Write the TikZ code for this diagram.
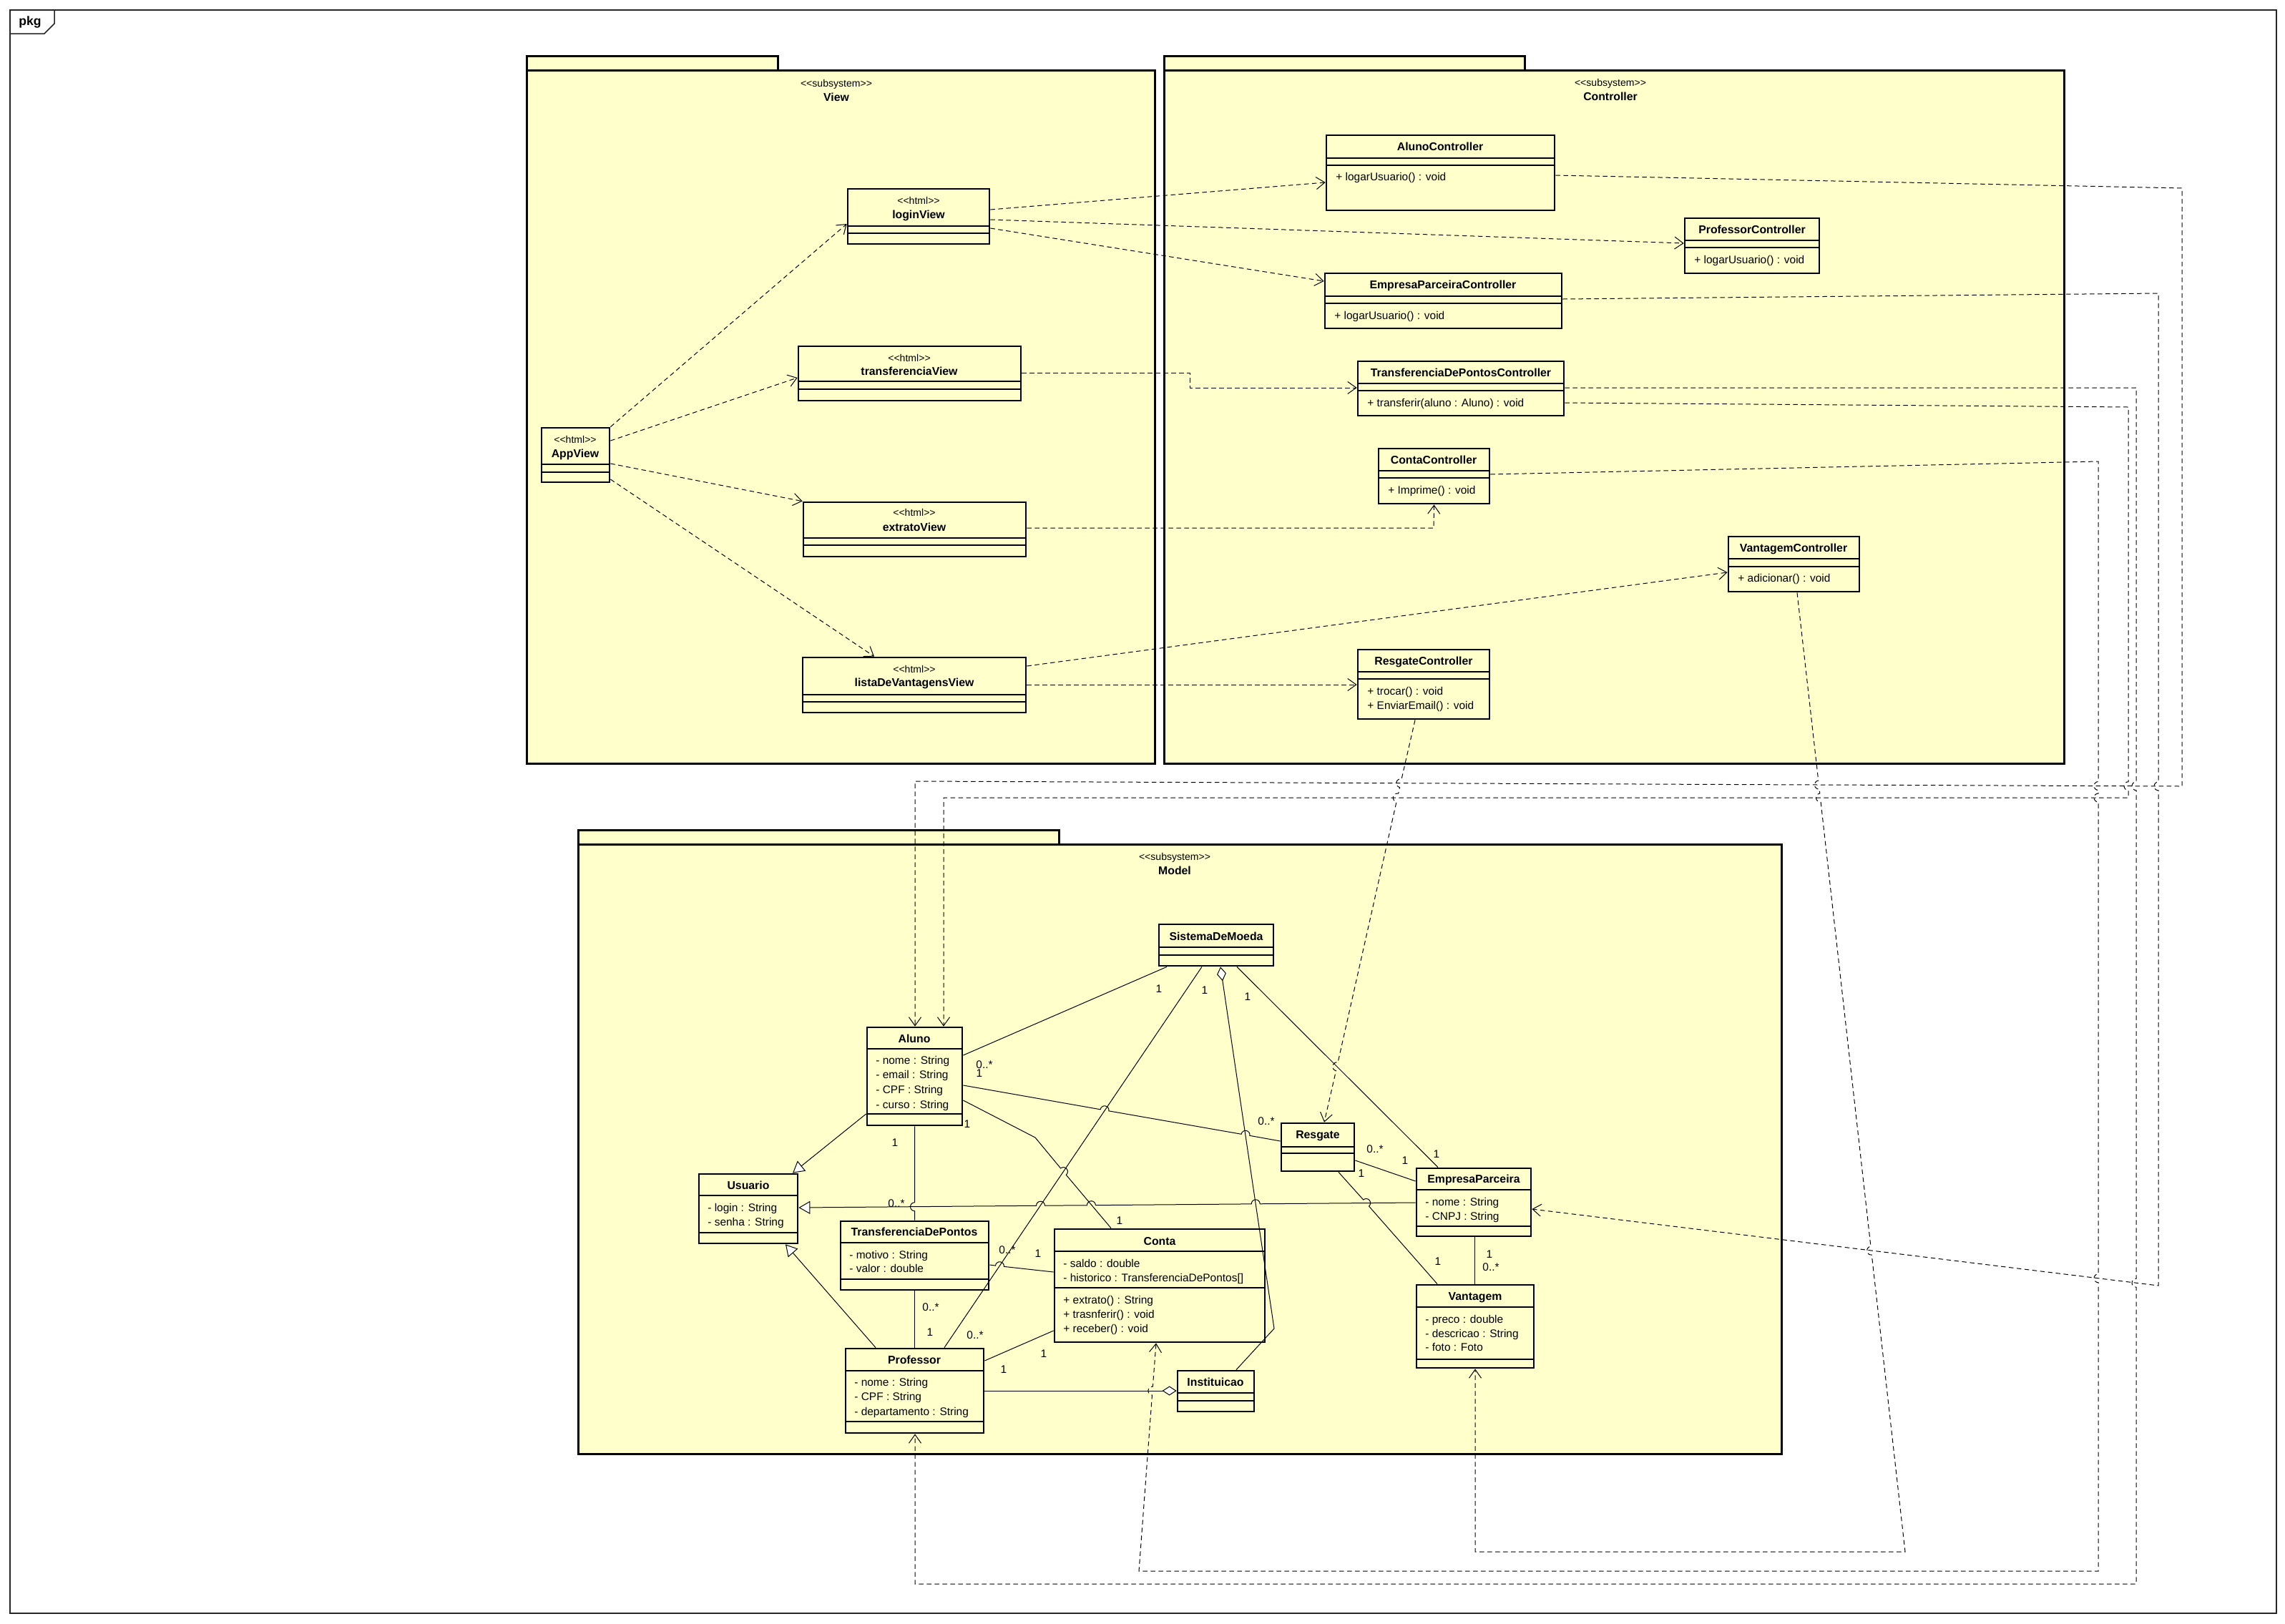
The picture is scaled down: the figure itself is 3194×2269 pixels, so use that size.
\documentclass[tikz,border=0pt]{standalone}
\usepackage{fontspec}
\setmainfont{Liberation Sans}
\usetikzlibrary{arrows.meta,fit}

\definecolor{umlyellow}{RGB}{255,255,204}

\tikzset{
  pkgbox/.style={draw, line width=0.6mm, fill=umlyellow, inner sep=0pt},
  classbox/.style={draw, line width=0.55mm, fill=umlyellow, inner sep=0pt},
  compart/.style={line width=0.22mm},
  cname/.style={font=\fontsize{9}{10}\selectfont\bfseries, anchor=mid, inner sep=0pt},
  stereo/.style={font=\fontsize{8}{9}\selectfont, anchor=mid, inner sep=0pt},
  attr/.style={font=\fontsize{8.8}{10}\selectfont, anchor=mid west, inner sep=0pt},
  mult/.style={font=\fontsize{8.8}{10}\selectfont, anchor=mid, inner sep=0pt},
  dep/.style={line width=0.2mm, dash pattern=on 1.3mm off 0.9mm,
    -{Straight Barb[length=2.4mm,width=3.4mm]}},
  assoc/.style={line width=0.2mm},
  gen/.style={line width=0.2mm, -{Triangle[length=3.2mm,width=3.6mm,fill=white]}},
  aggr/.style={line width=0.2mm, {Diamond[length=4mm,width=2.6mm,fill=white]}-},
}

\begin{document}
\begin{tikzpicture}[x=0.02cm, y=-0.02cm]
\useasboundingbox (0,0) rectangle (3194,2269);

% frame
\draw[line width=0.3mm, black!85] (14,14) rectangle (3182,2255);
\draw[line width=0.3mm, black!85] (14,47) -- (62,47) -- (76,33) -- (76,14);
\node[font=\fontsize{10}{12}\selectfont\bfseries] (pkg) at (42,31) {pkg};

% packages
\draw[pkgbox] (736,78) rectangle (1087,98);
\node[pkgbox, fit={(736,98) (1614,1067)}] (view) {};
\node[stereo] (viewst) at (1169,117) {<\kern0pt<subsystem>\kern0pt>};
\node[cname] (viewname) at (1169,137) {View};

\draw[pkgbox] (1627,78) rectangle (2131,98);
\node[pkgbox, fit={(1627,98) (2885,1067)}] (ctrl) {};
\node[stereo] (ctrlst) at (2251,116) {<\kern0pt<subsystem>\kern0pt>};
\node[cname] (ctrlname) at (2251,136) {Controller};

\draw[pkgbox] (808,1160) rectangle (1480,1180);
\node[pkgbox, fit={(808,1180) (2490,2032)}] (model) {};
\node[stereo] (modelst) at (1642,1198) {<\kern0pt<subsystem>\kern0pt>};
\node[cname] (modelname) at (1642,1218) {Model};

% view
\node[classbox, fit={(1185,264) (1383,341)}] (login) {};
\node[stereo] (loginst) at (1284,281) {<\kern0pt<html>\kern0pt>};
\node[cname] (loginname) at (1284,301) {loginView};
\draw[compart] (login.west |- 0,316) -- (login.east |- 0,316);
\draw[compart] (login.west |- 0,326) -- (login.east |- 0,326);

\node[classbox, fit={(1116,484) (1427,560)}] (transf) {};
\node[stereo] (transfst) at (1271,501) {<\kern0pt<html>\kern0pt>};
\node[cname] (transfname) at (1271,520) {transferenciaView};
\draw[compart] (transf.west |- 0,533) -- (transf.east |- 0,533);
\draw[compart] (transf.west |- 0,544) -- (transf.east |- 0,544);

\node[classbox, fit={(757,598) (852,674)}] (app) {};
\node[stereo] (appst) at (804,615) {<\kern0pt<html>\kern0pt>};
\node[cname] (appname) at (804,635) {AppView};
\draw[compart] (app.west |- 0,649) -- (app.east |- 0,649);
\draw[compart] (app.west |- 0,660) -- (app.east |- 0,660);

\node[classbox, fit={(1123,702) (1434,778)}] (extrato) {};
\node[stereo] (extratost) at (1278,717) {<\kern0pt<html>\kern0pt>};
\node[cname] (extratoname) at (1278,738) {extratoView};
\draw[compart] (extrato.west |- 0,752) -- (extrato.east |- 0,752);
\draw[compart] (extrato.west |- 0,762) -- (extrato.east |- 0,762);

\node[classbox, fit={(1122,919) (1434,996)}] (lista) {};
\node[stereo] (listast) at (1278,936) {<\kern0pt<html>\kern0pt>};
\node[cname] (listaname) at (1278,955) {listaDeVantagensView};
\draw[compart] (lista.west |- 0,971) -- (lista.east |- 0,971);
\draw[compart] (lista.west |- 0,981) -- (lista.east |- 0,981);

% controller
\node[classbox, fit={(1854,189) (2173,294)}] (alunoC) {};
\node[cname] (alunoCname) at (2013,206) {AlunoController};
\draw[compart] (alunoC.west |- 0,221) -- (alunoC.east |- 0,221);
\draw[compart] (alunoC.west |- 0,231) -- (alunoC.east |- 0,231);
\node[attr] (alunoCm1) at (1867,248) {+ logarUsuario() : void};

\node[classbox, fit={(2355,305) (2543,382)}] (profC) {};
\node[cname] (profCname) at (2449,322) {ProfessorController};
\draw[compart] (profC.west |- 0,336) -- (profC.east |- 0,336);
\draw[compart] (profC.west |- 0,346) -- (profC.east |- 0,346);
\node[attr] (profCm1) at (2368,364) {+ logarUsuario() : void};

\node[classbox, fit={(1852,382) (2183,459)}] (empC) {};
\node[cname] (empCname) at (2017,399) {EmpresaParceiraController};
\draw[compart] (empC.west |- 0,414) -- (empC.east |- 0,414);
\draw[compart] (empC.west |- 0,424) -- (empC.east |- 0,424);
\node[attr] (empCm1) at (1865,442) {+ logarUsuario() : void};

\node[classbox, fit={(1898,505) (2186,581)}] (tdpC) {};
\node[cname] (tdpCname) at (2042,522) {TransferenciaDePontosController};
\draw[compart] (tdpC.west |- 0,536) -- (tdpC.east |- 0,536);
\draw[compart] (tdpC.west |- 0,546) -- (tdpC.east |- 0,546);
\node[attr] (tdpCm1) at (1911,564) {+ transferir(aluno : Aluno) : void};

\node[classbox, fit={(1927,627) (2082,704)}] (contaC) {};
\node[cname] (contaCname) at (2004,644) {ContaController};
\draw[compart] (contaC.west |- 0,658) -- (contaC.east |- 0,658);
\draw[compart] (contaC.west |- 0,668) -- (contaC.east |- 0,668);
\node[attr] (contaCm1) at (1940,686) {+ Imprime() : void};

\node[classbox, fit={(2416,750) (2599,827)}] (vantC) {};
\node[cname] (vantCname) at (2507,767) {VantagemController};
\draw[compart] (vantC.west |- 0,781) -- (vantC.east |- 0,781);
\draw[compart] (vantC.west |- 0,792) -- (vantC.east |- 0,792);
\node[attr] (vantCm1) at (2429,809) {+ adicionar() : void};

\node[classbox, fit={(1898,908) (2082,1005)}] (resgC) {};
\node[cname] (resgCname) at (1990,925) {ResgateController};
\draw[compart] (resgC.west |- 0,939) -- (resgC.east |- 0,939);
\draw[compart] (resgC.west |- 0,949) -- (resgC.east |- 0,949);
\node[attr] (resgCm1) at (1911,967) {+ trocar() : void};
\node[attr] (resgCm2) at (1911,987) {+ EnviarEmail() : void};

% model
\node[classbox, fit={(1620,1292) (1780,1350)}] (sdm) {};
\node[cname] (sdmname) at (1700,1310) {SistemaDeMoeda};
\draw[compart] (sdm.west |- 0,1324) -- (sdm.east |- 0,1324);
\draw[compart] (sdm.west |- 0,1335) -- (sdm.east |- 0,1335);

\node[classbox, fit={(1212,1436) (1345,1573)}] (aluno) {};
\node[cname] (alunoname) at (1278,1453) {Aluno};
\draw[compart] (aluno.west |- 0,1466) -- (aluno.east |- 0,1466);
\node[attr] (alunoa1) at (1224,1483) {- nome : String};
\node[attr] (alunoa2) at (1224,1503) {- email : String};
\node[attr] (alunoa3) at (1224,1524) {- CPF : String};
\node[attr] (alunoa4) at (1224,1545) {- curso : String};
\draw[compart] (aluno.west |- 0,1557) -- (aluno.east |- 0,1557);

\node[classbox, fit={(977,1641) (1115,1738)}] (usuario) {};
\node[cname] (usuarioname) at (1046,1658) {Usuario};
\draw[compart] (usuario.west |- 0,1671) -- (usuario.east |- 0,1671);
\node[attr] (usuarioa1) at (989,1689) {- login : String};
\node[attr] (usuarioa2) at (989,1709) {- senha : String};
\draw[compart] (usuario.west |- 0,1723) -- (usuario.east |- 0,1723);

\node[classbox, fit={(1175,1707) (1382,1803)}] (tdp) {};
\node[cname] (tdpname) at (1278,1723) {TransferenciaDePontos};
\draw[compart] (tdp.west |- 0,1737) -- (tdp.east |- 0,1737);
\node[attr] (tdpa1) at (1187,1755) {- motivo : String};
\node[attr] (tdpa2) at (1187,1774) {- valor : double};
\draw[compart] (tdp.west |- 0,1788) -- (tdp.east |- 0,1788);

\node[classbox, fit={(1474,1718) (1768,1876)}] (conta) {};
\node[cname] (contaname) at (1621,1736) {Conta};
\draw[compart] (conta.west |- 0,1749) -- (conta.east |- 0,1749);
\node[attr] (contaa1) at (1486,1767) {- saldo : double};
\node[attr] (contaa2) at (1486,1787) {- historico : TransferenciaDePontos[]};
\draw[compart] (conta.west |- 0,1800) -- (conta.east |- 0,1800);
\node[attr] (contam1) at (1486,1818) {+ extrato() : String};
\node[attr] (contam2) at (1486,1838) {+ trasnferir() : void};
\node[attr] (contam3) at (1486,1858) {+ receber() : void};

\node[classbox, fit={(1182,1885) (1375,2003)}] (prof) {};
\node[cname] (profname) at (1278,1902) {Professor};
\draw[compart] (prof.west |- 0,1916) -- (prof.east |- 0,1916);
\node[attr] (profa1) at (1194,1933) {- nome : String};
\node[attr] (profa2) at (1194,1953) {- CPF : String};
\node[attr] (profa3) at (1194,1974) {- departamento : String};
\draw[compart] (prof.west |- 0,1987) -- (prof.east |- 0,1987);

\node[classbox, fit={(1646,1916) (1753,1973)}] (inst) {};
\node[cname] (instname) at (1699,1933) {Instituicao};
\draw[compart] (inst.west |- 0,1947) -- (inst.east |- 0,1947);
\draw[compart] (inst.west |- 0,1958) -- (inst.east |- 0,1958);

\node[classbox, fit={(1791,1570) (1893,1637)}] (resgate) {};
\node[cname] (resgatename) at (1842,1587) {Resgate};
\draw[compart] (resgate.west |- 0,1603) -- (resgate.east |- 0,1603);
\draw[compart] (resgate.west |- 0,1612) -- (resgate.east |- 0,1612);

\node[classbox, fit={(1980,1633) (2140,1728)}] (empresa) {};
\node[cname] (empresaname) at (2060,1649) {EmpresaParceira};
\draw[compart] (empresa.west |- 0,1663) -- (empresa.east |- 0,1663);
\node[attr] (empresaa1) at (1992,1681) {- nome : String};
\node[attr] (empresaa2) at (1992,1701) {- CNPJ : String};
\draw[compart] (empresa.west |- 0,1714) -- (empresa.east |- 0,1714);

\node[classbox, fit={(1980,1796) (2144,1912)}] (vantagem) {};
\node[cname] (vantagemname) at (2062,1813) {Vantagem};
\draw[compart] (vantagem.west |- 0,1827) -- (vantagem.east |- 0,1827);
\node[attr] (vantagema1) at (1992,1845) {- preco : double};
\node[attr] (vantagema2) at (1992,1865) {- descricao : String};
\node[attr] (vantagema3) at (1992,1884) {- foto : Foto};
\draw[compart] (vantagem.west |- 0,1900) -- (vantagem.east |- 0,1900);

% view dependencies
\draw[dep] (app.north east) -- (login.west |- 0,313);
\draw[dep] (app.east |- 0,616) -- (transf.west |- 0,528);
\draw[dep] (app.east |- 0,648) -- (extrato.north west);
\draw[dep] (app.east |- 0,670) -- (1222,0 |- lista.north);
\draw[dep] (login.east |- 0,293) -- (alunoC.west |- 0,255);
\draw[dep] (login.east |- 0,307) -- (profC.west |- 0,340);
\draw[dep] (login.east |- 0,319) -- (empC.west |- 0,393);
\draw[dep] (transf.east |- 0,521) -- (1663,521) -- (1663,542) -- (tdpC.west |- 0,542);
\draw[dep] (extrato.east |- 0,738) -- (2004,738) -- (contaC.south);
\draw[dep] (lista.east |- 0,931) -- (vantC.west |- 0,800);
\draw[dep] (lista.east |- 0,957) -- (resgC.west |- 0,957);

% controller dependencies (with line hops)
\draw[dep] (alunoC.east |- 0,245) -- (3050,263) -- (3050,1099) -- (1279,1092) -- (1279,0 |- aluno.north);
\draw[dep] (tdpC.east |- 0,563) -- (2975,569) -- (2975,1092.7) arc[start angle=270, end angle=90, radius=6]
  -- (2975,1115) -- (1319,1115) -- (1319,0 |- aluno.north);
\draw[dep] (tdpC.east |- 0,542) -- (2986,542) -- (2986,1092.7) arc[start angle=270, end angle=90, radius=6]
  -- (2986,1787.2) arc[start angle=270, end angle=90, radius=6]
  -- (2986,2214) -- (1279,2214) -- (1279,0 |- prof.south);
\draw[dep] (empC.east |- 0,418) -- (3017,410) -- (3017,1092.9) arc[start angle=270, end angle=90, radius=6]
  -- (3017,1797) -- (empresa.east |- 0,1690);
\draw[dep] (contaC.east |- 0,663) -- (2933,645) -- (2933,1092.5) arc[start angle=270, end angle=90, radius=6]
  -- (2933,1109) arc[start angle=270, end angle=90, radius=6]
  -- (2933,1780.7) arc[start angle=270, end angle=90, radius=6]
  -- (2933,2196) -- (1592,2196)
  -- ([shift={(94.29:6)}]1610.9,1944) arc[start angle=94.29, end angle=274.29, radius=6]
  -- (1616,0 |- conta.south);
\draw[dep] (2512,0 |- vantC.south)
  -- ([shift={(263.58:6)}]2542.4,1097) arc[start angle=263.58, end angle=83.58, radius=6]
  -- ([shift={(263.58:6)}]2544.4,1115) arc[start angle=263.58, end angle=83.58, radius=6]
  -- ([shift={(263.58:6)}]2615.6,1748.1) arc[start angle=263.58, end angle=83.58, radius=6]
  -- (2663,2169) -- (2062,2169) -- (vantagem.south);
\draw[dep] (1978,0 |- resgC.south)
  -- ([shift={(282.67:6)}]1957.8,1094.7) arc[start angle=282.67, end angle=102.67, radius=6]
  -- ([shift={(282.67:6)}]1953.3,1115) arc[start angle=282.67, end angle=102.67, radius=6]
  -- ([shift={(282.67:6)}]1868.8,1490.8) arc[start angle=282.67, end angle=102.67, radius=6]
  -- (1851,0 |- resgate.north);

% model associations
\draw[assoc] (1631,0 |- sdm.south) -- (aluno.east |- 0,1475);
\draw[assoc] (1680,0 |- sdm.south) -- (1320,0 |- prof.north);
\draw[aggr] (1706,0 |- sdm.south) -- (1781,1857) -- (1728,0 |- inst.north);
\draw[assoc] (1729,0 |- sdm.south) -- (2010,0 |- empresa.north);
\draw[assoc] (aluno.east |- 0,1517)
  -- ([shift={(189.92:6)}]1544,1551.8) arc[start angle=189.92, end angle=369.92, radius=6]
  -- ([shift={(189.92:6)}]1741,1586.3) arc[start angle=189.92, end angle=369.92, radius=6]
  -- (resgate.west |- 0,1595);
\draw[assoc] (resgate.east |- 0,1622) -- (empresa.west |- 0,1651);
\draw[assoc] (1871,0 |- resgate.south)
  -- ([shift={(229.04:6)}]1909.6,1681.5) arc[start angle=229.04, end angle=409.04, radius=6]
  -- (2009,0 |- vantagem.north);
\draw[assoc] (2061,0 |- empresa.south) -- (2061,0 |- vantagem.north);
\draw[gen] (empresa.west |- 0,1681)
  -- ([shift={(-0.46:6)}]1755.2,1682.8) arc[start angle=-0.46, end angle=-180.46, radius=6]
  -- ([shift={(-0.46:6)}]1525.4,1684.7) arc[start angle=-0.46, end angle=-180.46, radius=6]
  -- ([shift={(-0.46:6)}]1454.5,1685.2) arc[start angle=-0.46, end angle=-180.46, radius=6]
  -- (usuario.east |- 0,1688);
\draw[gen] (aluno.west |- 0,1557) -- (1108,0 |- usuario.north);
\draw[gen] (1224,0 |- prof.north) -- (1098,0 |- usuario.south);
\draw[assoc] (aluno.east |- 0,1538) -- (1447,1590)
  -- ([shift={(230.37:6)}]1486.4,1637.6) arc[start angle=230.37, end angle=410.37, radius=6]
  -- (1553,0 |- conta.north);
\draw[assoc] (tdp.east |- 0,1768)
  -- ([shift={(186.2:6)}]1397.4,1769.7) arc[start angle=186.2, end angle=366.2, radius=6]
  -- (conta.west |- 0,1778);
\draw[assoc] (tdp.south) -- (prof.north);
\draw[assoc] (prof.east |- 0,1902) -- (conta.west |- 0,1860);
\draw[aggr] (inst.west |- 0,1944) -- (prof.east |- 0,1944);
\draw[assoc] (aluno.south) -- (1278.5,1680.7) arc[start angle=270, end angle=90, radius=6] -- (tdp.north);

% multiplicities
\node[mult] (m1) at (1620,1383) {1};
\node[mult] (m2) at (1684,1385) {1};
\node[mult] (m3) at (1744,1394) {1};
\node[mult] (m4) at (1376,1489) {0..*};
\node[mult] (m5) at (1369,1501) {1};
\node[mult] (m6) at (1363,1867) {0..*};
\node[mult] (m7) at (2008,1614) {1};
\node[mult] (m8) at (1770,1568) {0..*};
\node[mult] (m9) at (1922,1607) {0..*};
\node[mult] (m10) at (1964,1623) {1};
\node[mult] (m11) at (1903,1641) {1};
\node[mult] (m12) at (2010,1764) {1};
\node[mult] (m13) at (2082,1754) {1};
\node[mult] (m14) at (2084,1772) {0..*};
\node[mult] (m15) at (1352,1572) {1};
\node[mult] (m16) at (1565,1707) {1};
\node[mult] (m17) at (1408,1748) {0..*};
\node[mult] (m18) at (1451,1753) {1};
\node[mult] (m19) at (1301,1828) {0..*};
\node[mult] (m20) at (1300,1863) {1};
\node[mult] (m21) at (1459,1893) {1};
\node[mult] (m22) at (1403,1915) {1};
\node[mult] (m23) at (1251,1598) {1};
\node[mult] (m24) at (1253,1683) {0..*};
\end{tikzpicture}
\end{document}
